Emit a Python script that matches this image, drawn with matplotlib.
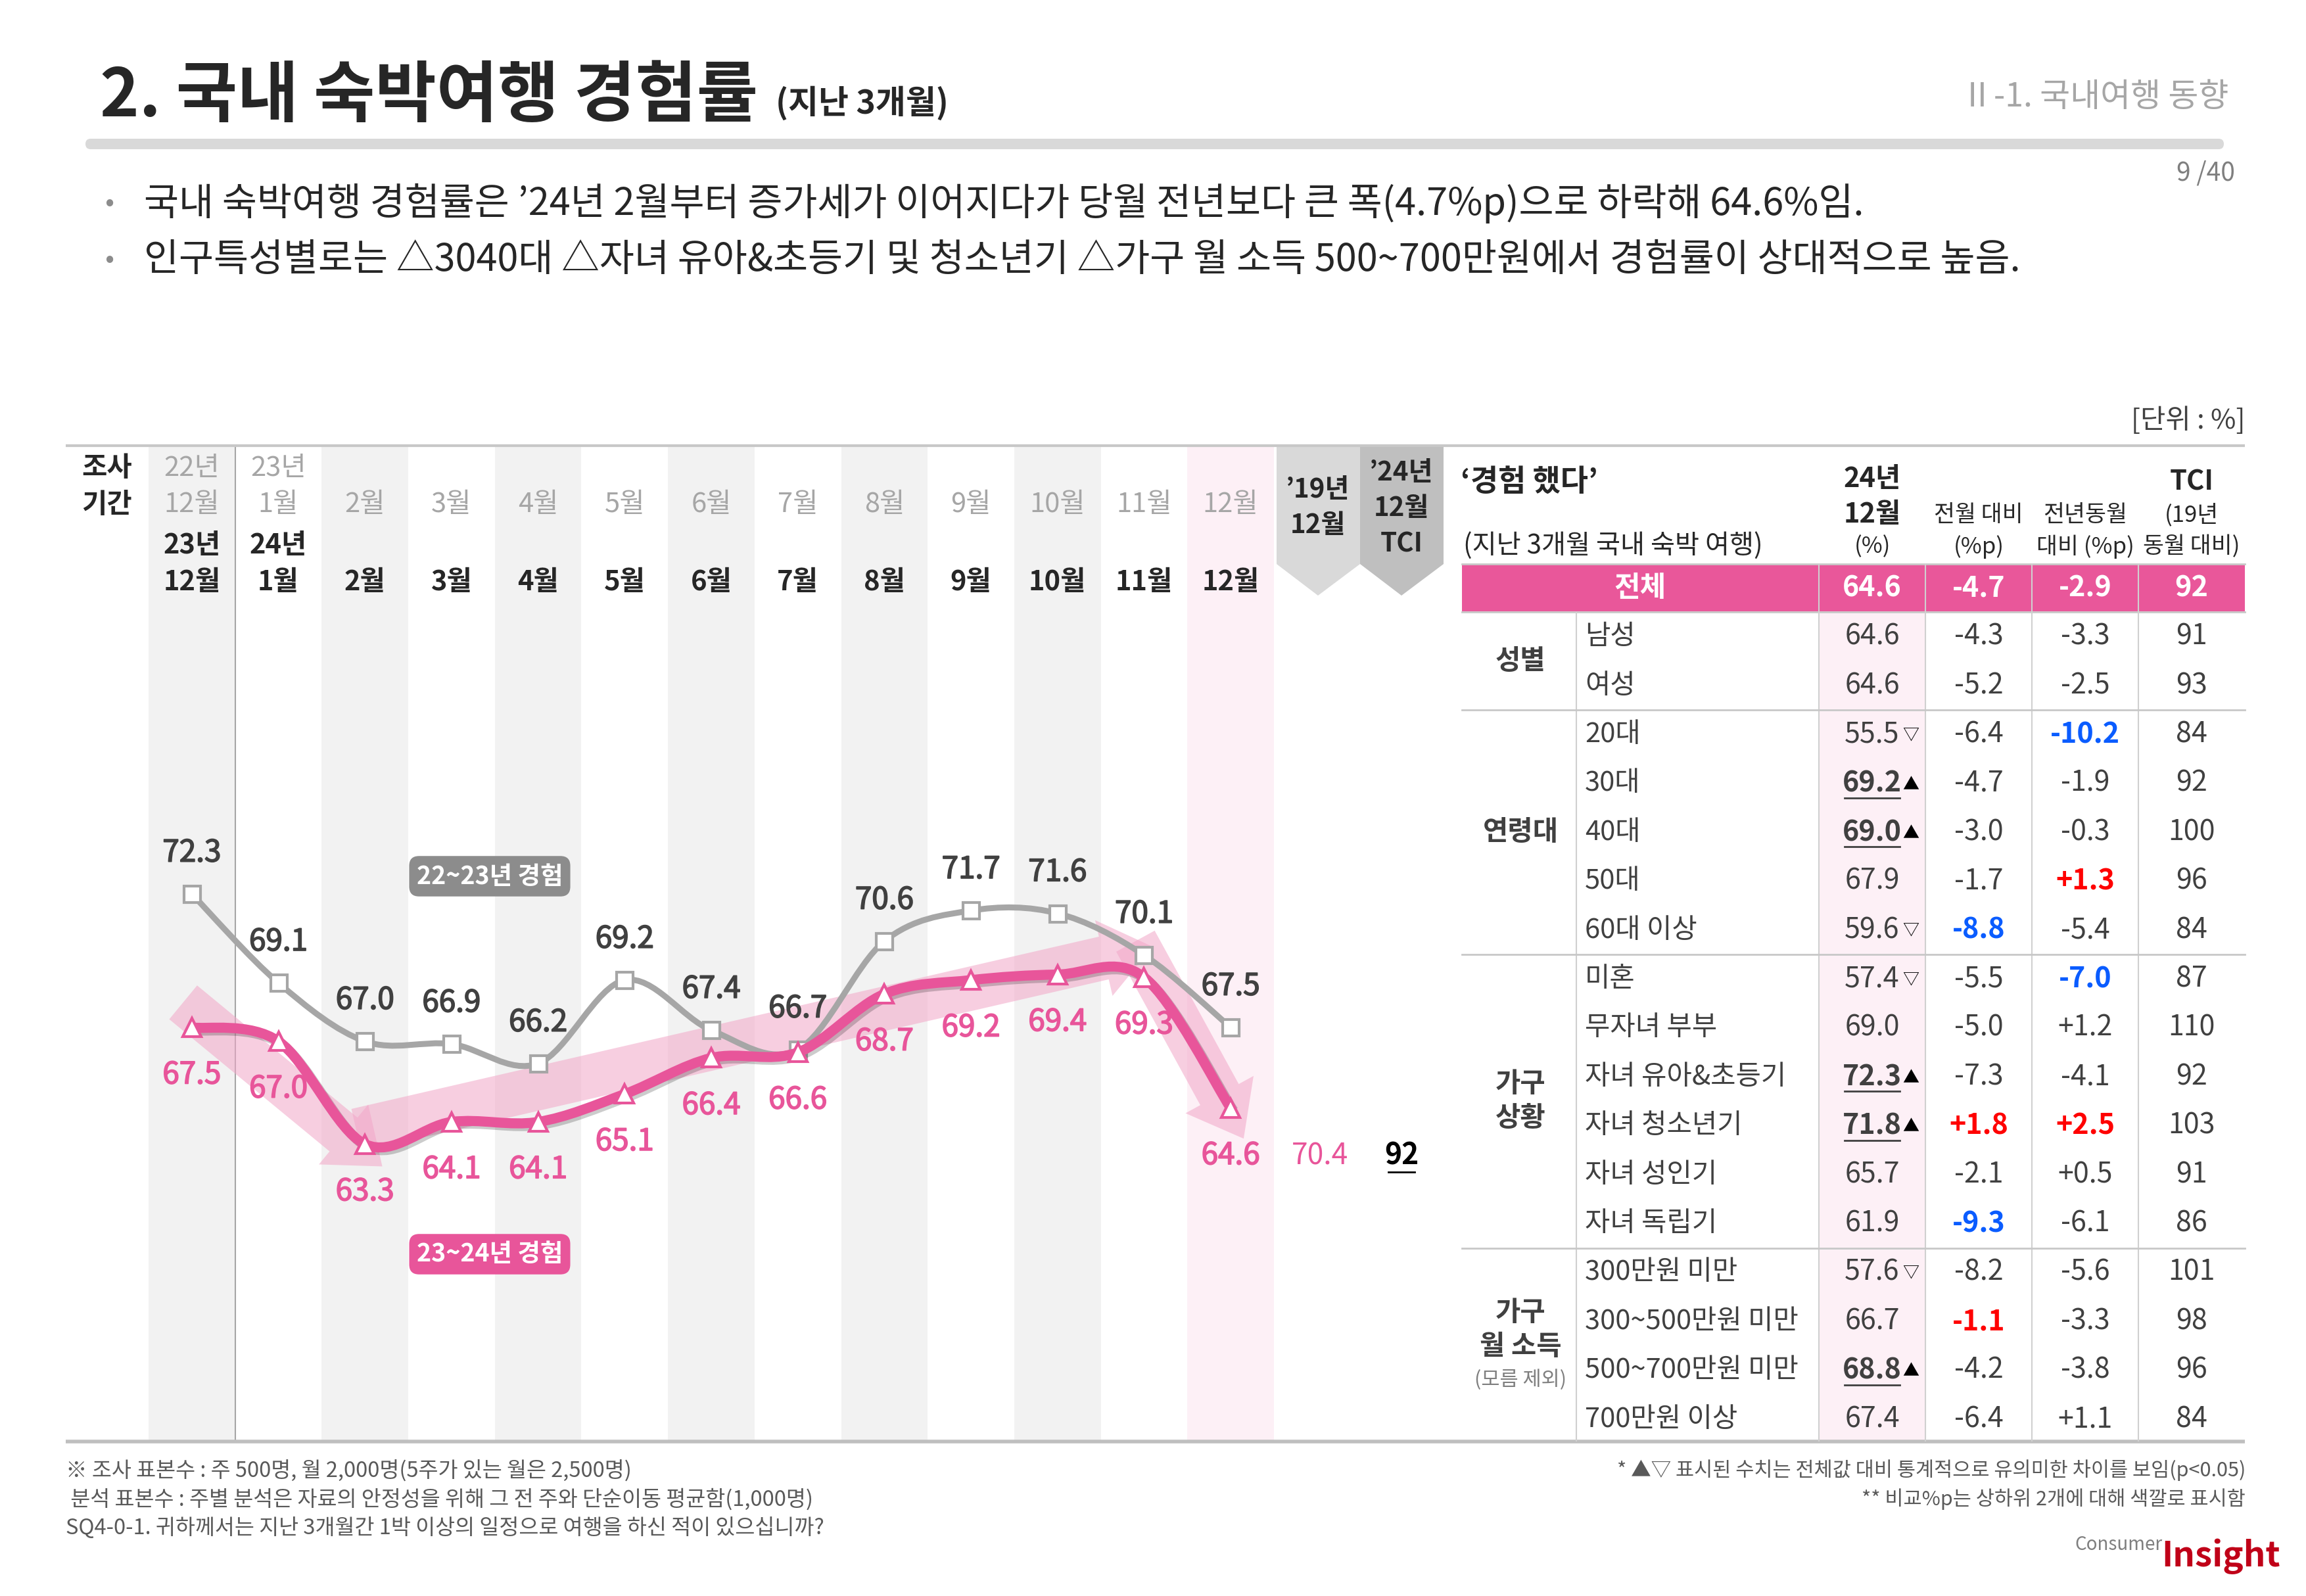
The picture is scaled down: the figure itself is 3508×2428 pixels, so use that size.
import matplotlib
matplotlib.use('Agg')
import matplotlib.pyplot as plt
import numpy as np
from matplotlib.patches import Rectangle, Polygon, FancyBboxPatch, PathPatch
from matplotlib.path import Path
from matplotlib.transforms import blended_transform_factory
import matplotlib.patheffects as pe

plt.rcParams['font.family'] = ['Noto Sans CJK KR', 'DejaVu Sans']

# ---------------- data ----------------
months = ['12월', '1월', '2월', '3월', '4월', '5월', '6월', '7월', '8월', '9월', '10월', '11월', '12월']
prev_years = ['22년', '23년']
curr_years = ['23년', '24년']
rate_prev = [72.3, 69.1, 67.0, 66.9, 66.2, 69.2, 67.4, 66.7, 70.6, 71.7, 71.6, 70.1, 67.5]
rate_curr = [67.5, 67.0, 63.3, 64.1, 64.1, 65.1, 66.4, 66.6, 68.7, 69.2, 69.4, 69.3, 64.6]
rate_2019 = 70.4
tci_total = 92

total_row = ['전체', 64.6, -4.7, -2.9, 92]
groups = ['성별', '연령대', '가구\n상황', '가구\n월 소득']
group_sizes = [2, 5, 6, 4]
items = ['남성', '여성', '20대', '30대', '40대', '50대', '60대 이상',
         '미혼', '무자녀 부부', '자녀 유아&초등기', '자녀 청소년기', '자녀 성인기', '자녀 독립기',
         '300만원 미만', '300~500만원 미만', '500~700만원 미만', '700만원 이상']
val_24 = [64.6, 64.6, 55.5, 69.2, 69.0, 67.9, 59.6, 57.4, 69.0, 72.3, 71.8, 65.7, 61.9, 57.6, 66.7, 68.8, 67.4]
sig = ['', '', '▽', '▲', '▲', '', '▽', '▽', '', '▲', '▲', '', '', '▽', '', '▲', '']
mom = [-4.3, -5.2, -6.4, -4.7, -3.0, -1.7, -8.8, -5.5, -5.0, -7.3, 1.8, -2.1, -9.3, -8.2, -1.1, -4.2, -6.4]
yoy = [-3.3, -2.5, -10.2, -1.9, -0.3, 1.3, -5.4, -7.0, 1.2, -4.1, 2.5, 0.5, -6.1, -5.6, -3.3, -3.8, 1.1]
tci = [91, 93, 84, 92, 100, 96, 84, 87, 110, 92, 103, 91, 86, 101, 98, 96, 84]

# ---------------- figure ----------------
W, H = 3508, 2428
fig = plt.figure(figsize=(W / 100, H / 100), dpi=100)
bg = fig.add_axes([0, 0, 1, 1])
bg.set_xlim(0, W)
bg.set_ylim(H, 0)
bg.axis('off')

PINK = '#e8559a'
DARK = '#262626'
TXT = '#404040'
GRID = '#c8c8c8'

# title
bg.text(152, 148, '2. 국내 숙박여행 경험률', fontsize=73, fontweight='bold', color=DARK, va='center', ha='left')
bg.text(1180, 158, '(지난 3개월)', fontsize=36, fontweight='bold', color=DARK, va='center', ha='left')
bg.text(3390, 148, 'Ⅱ-1. 국내여행 동향', fontsize=36, color='#a6a6a6', va='center', ha='right')
bg.add_patch(FancyBboxPatch((130, 211), 3253, 16, boxstyle='round,pad=0,rounding_size=8',
                            fc='#d9d9d9', ec='none'))
bg.text(3400, 264, '9 /40', fontsize=28, color='#7f7f7f', va='center', ha='right')

bullets = ['국내 숙박여행 경험률은 ’24년 2월부터 증가세가 이어지다가 당월 전년보다 큰 폭(4.7%p)으로 하락해 64.6%임.',
           '인구특성별로는 △3040대 △자녀 유아&초등기 및 청소년기 △가구 월 소득 500~700만원에서 경험률이 상대적으로 높음.']
for k, b in enumerate(bullets):
    y = 309 + 87 * k
    bg.text(166, y, '•', fontsize=30, color='#8c8c8c', va='center', ha='center')
    bg.text(219, y, b, fontsize=41.5, color=DARK, va='center', ha='left')

bg.text(3415, 640, '[단위 : %]', fontsize=30, color=TXT, va='center', ha='right')

# frame lines
bg.plot([100, 3415], [678, 678], color=GRID, lw=3, solid_capstyle='butt')
bg.plot([100, 3415], [2193, 2193], color='#bfbfbf', lw=4, solid_capstyle='butt')

# ---------------- line chart axes ----------------
x0, x1 = 226, 1938
ytop, ybot = 678, 2192
ax = fig.add_axes([x0 / W, (H - ybot) / H, (x1 - x0) / W, (ybot - ytop) / H])
ax.set_xlim(-0.5, 12.5)
ax.set_ylim(52.63, 88.42)
ax.axis('off')
ax.patch.set_alpha(0)

n = len(months)
xs = np.arange(n)
tr = blended_transform_factory(ax.transData, bg.transData)

# column strips
for i in range(n):
    if i == n - 1:
        c = '#fdf0f6'
    elif i % 2 == 0:
        c = '#f2f2f2'
    else:
        c = 'white'
    bg.add_patch(Rectangle((i - 0.5, ytop + 2), 1, ybot - ytop - 2, transform=tr, fc=c, ec='none', zorder=0))
bg.plot([0.5, 0.5], [ytop, ybot], transform=tr, color='#a6a6a6', lw=1.5, zorder=1)

# header labels
bg.text(163, 712, '조사', fontsize=30, fontweight='bold', color=DARK, ha='center', va='center')
bg.text(163, 768, '기간', fontsize=30, fontweight='bold', color=DARK, ha='center', va='center')
for i, m in enumerate(months):
    if i < 2:
        bg.text(i, 712, prev_years[i], transform=tr, fontsize=30, color='#a6a6a6', ha='center', va='center')
        bg.text(i, 830, curr_years[i], transform=tr, fontsize=30, fontweight='bold', color=DARK, ha='center', va='center')
    bg.text(i, 768, m, transform=tr, fontsize=30, color='#a6a6a6', ha='center', va='center')
    bg.text(i, 886, m, transform=tr, fontsize=30, fontweight='bold', color=DARK, ha='center', va='center')

# comparison chevrons
bg.add_patch(Polygon([(1942, 680), (2069, 680), (2069, 858), (2005, 906), (1942, 858)], fc='#d9d9d9', ec='none'))
bg.add_patch(Polygon([(2069, 680), (2196, 680), (2196, 858), (2132, 906), (2069, 858)], fc='#bfbfbf', ec='none'))
bg.text(2005, 745, '’19년', fontsize=29, fontweight='bold', color=DARK, ha='center', va='center')
bg.text(2005, 799, '12월', fontsize=29, fontweight='bold', color=DARK, ha='center', va='center')
bg.text(2132, 720, '’24년', fontsize=29, fontweight='bold', color=DARK, ha='center', va='center')
bg.text(2132, 774, '12월', fontsize=29, fontweight='bold', color=DARK, ha='center', va='center')
bg.text(2132, 828, 'TCI', fontsize=29, fontweight='bold', color=DARK, ha='center', va='center')
bg.text(2008, 1758, f'{rate_2019:.1f}', fontsize=32, style='italic', color=PINK, ha='center', va='center')
bg.text(2132, 1758, f'{tci_total}', fontsize=32, fontweight='bold', color='black', ha='center', va='center')
bg.plot([2112, 2152], [1783, 1783], color='black', lw=2)

# legend tags
bg.text(745, 1333, '22~23년 경험', fontsize=27, fontweight='bold', color='white', ha='center', va='center',
        bbox=dict(boxstyle='round,pad=0.3,rounding_size=0.4', fc='#8c8c8c', ec='none'))
bg.text(745, 1908, '23~24년 경험', fontsize=27, fontweight='bold', color='white', ha='center', va='center',
        bbox=dict(boxstyle='round,pad=0.3,rounding_size=0.4', fc=PINK, ec='none'))


def smooth_path(px, py):
    pts = np.column_stack([px, py]).astype(float)
    verts = [pts[0]]
    codes = [Path.MOVETO]
    m = len(pts)
    for i in range(m - 1):
        p0 = pts[i - 1] if i > 0 else pts[i]
        p1, p2 = pts[i], pts[i + 1]
        p3 = pts[i + 2] if i + 2 < m else pts[i + 1]
        verts += [p1 + (p2 - p0) / 6, p2 - (p3 - p1) / 6, p2]
        codes += [Path.CURVE4] * 3
    return Path(verts, codes)


# trend arrows (current series)
arrow_kw = dict(arrowstyle='simple,head_length=0.55,head_width=0.85,tail_width=0.48',
                mutation_scale=100, color='#f2a6c8', alpha=0.55, shrinkA=0, shrinkB=0, lw=0)
for (a, b), (dxa, dya, dxb, dyb) in zip([(0, 2), (2, 11), (11, 12)],
                                         [(-0.1, 0.9, 0.2, -0.8), (-0.1, 0.5, 0.1, 1.1), (-0.1, 1.3, 0.15, -1.1)]):
    ax.annotate('', xy=(xs[b] + dxb, rate_curr[b] + dyb), xytext=(xs[a] + dxa, rate_curr[a] + dya),
                arrowprops=arrow_kw, zorder=1)

ax.add_patch(PathPatch(smooth_path(xs, rate_prev), fill=False, ec='#a6a6a6', lw=6.5, zorder=2))
ax.plot(xs, rate_prev, ls='none', marker='s', ms=18, mfc='white', mec='#a6a6a6', mew=3, zorder=3)
ax.add_patch(PathPatch(smooth_path(xs, rate_curr), fill=False, ec=PINK, lw=11, zorder=4,
                       path_effects=[pe.SimpleLineShadow(offset=(3, -3), shadow_color='black', alpha=0.2),
                                     pe.Normal()]))
ax.plot(xs, rate_curr, ls='none', marker='^', ms=20, mfc='white', mec=PINK, mew=3, zorder=5)

for i in range(n):
    ax.annotate(f'{rate_prev[i]:.1f}', (xs[i], rate_prev[i]), xytext=(0, 45), textcoords='offset points',
                ha='center', va='center', fontsize=33, color=TXT, zorder=6,
                path_effects=[pe.withStroke(linewidth=1.2, foreground=TXT)])
    ax.annotate(f'{rate_curr[i]:.1f}', (xs[i], rate_curr[i]), xytext=(0, -52), textcoords='offset points',
                ha='center', va='center', fontsize=33, color=PINK, zorder=6,
                path_effects=[pe.withStroke(linewidth=1.2, foreground=PINK)])

# ---------------- table ----------------
tl, tr_ = 2224, 3415
col_b = [2224, 2398, 2767, 2929, 3091, 3253, 3415]
col_c = [2848, 3010, 3172, 3334]
row0, rh = 968.6, 74.4
nrows = len(items)

bg.text(2222, 734, '‘경험 했다’', fontsize=33, fontweight='bold', color=DARK, ha='left', va='center')
bg.text(2226, 830, '(지난 3개월 국내 숙박 여행)', fontsize=29, color=DARK, ha='left', va='center')
bg.text(col_c[0], 729, '24년', fontsize=30, fontweight='bold', color=DARK, ha='center', va='center')
bg.text(col_c[0], 783, '12월', fontsize=30, fontweight='bold', color=DARK, ha='center', va='center')
bg.text(col_c[0], 832, '(%)', fontsize=25, color=DARK, ha='center', va='center')
bg.text(col_c[1], 783, '전월 대비', fontsize=25, color=DARK, ha='center', va='center')
bg.text(col_c[1], 832, '(%p)', fontsize=25, color=DARK, ha='center', va='center')
bg.text(col_c[2], 783, '전년동월', fontsize=25, color=DARK, ha='center', va='center')
bg.text(col_c[2], 832, '대비 (%p)', fontsize=25, color=DARK, ha='center', va='center')
bg.text(col_c[3], 734, 'TCI', fontsize=30, fontweight='bold', color=DARK, ha='center', va='center')
bg.text(col_c[3], 783, '(19년', fontsize=25, color=DARK, ha='center', va='center')
bg.text(col_c[3], 832, '동월 대비)', fontsize=25, color=DARK, ha='center', va='center')

# total row
bg.add_patch(Rectangle((tl, 858), tr_ - tl, 72, fc='#e9579a', ec='none'))
bg.plot([tl, tr_], [858, 858], color=GRID, lw=2)
bg.plot([tl, tr_], [931, 931], color=GRID, lw=2)
bg.text((col_b[0] + col_b[2]) / 2, 894, total_row[0], fontsize=31, fontweight='bold', color='white', ha='center', va='center')
bg.text(col_c[0], 894, f'{total_row[1]:.1f}', fontsize=31, fontweight='bold', color='white', ha='center', va='center')
bg.text(col_c[1], 894, f'{total_row[2]:.1f}', fontsize=31, fontweight='bold', color='white', ha='center', va='center')
bg.text(col_c[2], 894, f'{total_row[3]:.1f}', fontsize=31, fontweight='bold', color='white', ha='center', va='center')
bg.text(col_c[3], 894, f'{total_row[4]}', fontsize=31, fontweight='bold', color='white', ha='center', va='center')

# pink background for current column
bg.add_patch(Rectangle((col_b[2], 932), col_b[3] - col_b[2], ybot - 932, fc='#fdf0f6', ec='none'))

for xb in col_b[2:6]:
    bg.plot([xb, xb], [858, ybot], color='#d0d0d0', lw=1.5)
bg.plot([col_b[1], col_b[1]], [932, ybot], color='#d0d0d0', lw=1.5)


def rank_colors(vals):
    order = np.argsort(vals)
    cols = [TXT] * len(vals)
    for j in order[:2]:
        cols[j] = '#0a5cff'
    for j in order[-2:]:
        cols[j] = '#ff0000'
    return cols


mom_c = rank_colors(mom)
yoy_c = rank_colors(yoy)

start = 0
for g, size in zip(groups, group_sizes):
    yc = row0 + rh * (start + (size - 1) / 2)
    if g == '가구\n월 소득':
        bg.text(2313, yc - 50, '가구', fontsize=30, fontweight='bold', color=TXT, ha='center', va='center')
        bg.text(2313, yc + 2, '월 소득', fontsize=30, fontweight='bold', color=TXT, ha='center', va='center')
        bg.text(2313, yc + 52, '(모름 제외)', fontsize=22, color='#7f7f7f', ha='center', va='center')
    else:
        bg.text(2313, yc, g, fontsize=30, fontweight='bold', color=TXT, ha='center', va='center', linespacing=1.3)
    start += size
    if start < nrows:
        ysep = row0 + rh * (start - 0.5)
        bg.plot([tl, tr_], [ysep, ysep], color=GRID, lw=2)

for k in range(nrows):
    y = row0 + rh * k
    bg.text(2411, y, items[k], fontsize=30, color=TXT, ha='left', va='center')
    strong = sig[k] == '▲'
    bg.text(col_c[0], y, f'{val_24[k]:.1f}', fontsize=31, color=TXT, ha='center', va='center',
            fontweight='bold' if strong else 'normal')
    if strong:
        bg.plot([col_c[0] - 42, col_c[0] + 42], [y + 22, y + 22], color=TXT, lw=2)
    if sig[k]:
        bg.text(col_c[0] + 46, y + 2, sig[k], fontsize=18, color='black', ha='left', va='center')
    for c, vals, cols in [(1, mom, mom_c), (2, yoy, yoy_c)]:
        v = vals[k]
        s = f'{v:+.1f}' if v > 0 else f'{v:.1f}'
        bg.text(col_c[c], y, s, fontsize=31, color=cols[k], ha='center', va='center',
                fontweight='bold' if cols[k] != TXT else 'normal')
    bg.text(col_c[3], y, f'{tci[k]}', fontsize=31, color=TXT, ha='center', va='center')

# ---------------- footer ----------------
foot_l = ['※ 조사 표본수 : 주 500명, 월 2,000명(5주가 있는 월은 2,500명)',
          ' 분석 표본수 : 주별 분석은 자료의 안정성을 위해 그 전 주와 단순이동 평균함(1,000명)',
          'SQ4-0-1. 귀하께서는 지난 3개월간 1박 이상의 일정으로 여행을 하신 적이 있으십니까?']
for k, s in enumerate(foot_l):
    bg.text(100, 2237 + 44 * k, s, fontsize=23.5, color='#595959', ha='left', va='center')
bg.text(3416, 2237, '* ▲▽ 표시된 수치는 전체값 대비 통계적으로 유의미한 차이를 보임(p<0.05)', fontsize=22,
        color='#595959', ha='right', va='center')
bg.text(3416, 2281, '** 비교%p는 상하위 2개에 대해 색깔로 표시함', fontsize=22, color='#595959', ha='right', va='center')
bg.text(3290, 2350, 'Consumer', fontsize=20, color='#7f7f7f', ha='right', va='center')
bg.text(3288, 2368, 'Insight', fontsize=38, fontweight='bold', color='#c00018', ha='left', va='center')

fig.savefig('out.png', dpi=100)
